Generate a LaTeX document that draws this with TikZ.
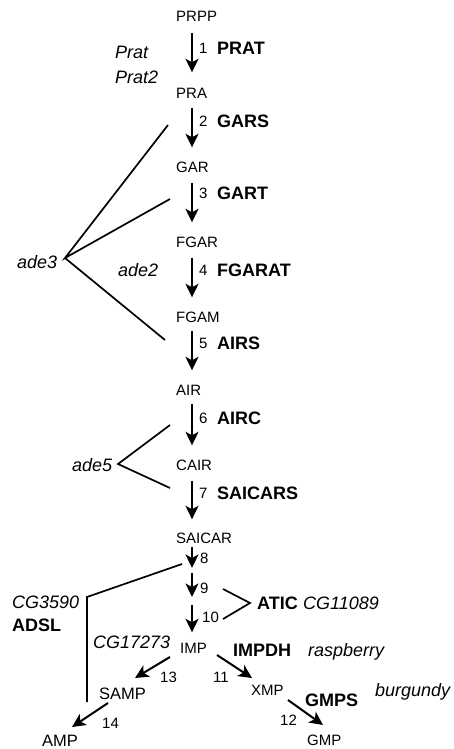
\documentclass[tikz,border=0pt]{standalone}
\usepackage{fontspec}
\setmainfont{Liberation Sans}
\usetikzlibrary{arrows.meta}
\begin{document}
\begin{tikzpicture}[x=1pt,y=-1pt,
  met/.style={anchor=west,inner sep=0pt,text height=11pt,text depth=0pt,font=\fontsize{15}{18}\selectfont},
  metl/.style={anchor=west,inner sep=0pt,text height=12pt,text depth=0pt,font=\fontsize{16.5}{19}\selectfont},
  num/.style={anchor=west,inner sep=0pt,text height=11pt,text depth=0pt,font=\fontsize{15}{18}\selectfont},
  enz/.style={anchor=west,inner sep=0pt,text height=13pt,text depth=0pt,font=\fontsize{18}{21}\selectfont\bfseries},
  gene/.style={anchor=west,inner sep=0pt,text height=13pt,text depth=0pt,font=\fontsize{18}{21}\selectfont\itshape},
  arr/.style={line width=2pt,-{Stealth[length=13.5pt,width=13pt,inset=3.5pt]}},
  sline/.style={line width=1.7pt}]
\useasboundingbox (0,0) rectangle (453,749);
% metabolites
\node[met] (prpp) at (176,16) {PRPP};
\node[met] (pra) at (176,93) {PRA};
\node[met] (gar) at (176,167) {GAR};
\node[met] (fgar) at (176,242) {FGAR};
\node[met] (fgam) at (176,317) {FGAM};
\node[met] (air) at (176,390) {AIR};
\node[met] (cair) at (176,465) {CAIR};
\node[met] (saicar) at (176,538) {SAICAR};
\node[met] (imp) at (180,648) {IMP};
\node[metl] (samp) at (99,693) {SAMP};
\node[met] (xmp) at (251,690) {XMP};
\node[metl] (amp) at (42,740) {AMP};
\node[met] (gmp) at (307,740) {GMP};
% step numbers
\node[num] (n1) at (199,48) {1};
\node[num] (n2) at (199,121) {2};
\node[num] (n3) at (199,193) {3};
\node[num] (n4) at (199,270) {4};
\node[num] (n5) at (199,343) {5};
\node[num] (n6) at (199,418) {6};
\node[num] (n7) at (199,493) {7};
\node[num] (n8) at (200,558) {8};
\node[num] (n9) at (200,588) {9};
\node[num] (n10) at (202,617) {10};
\node[num] (n13) at (160,677) {13};
\node[num] (n11) at (213,677) {11};
\node[num] (n14) at (102,723) {14};
\node[num] (n12) at (280,720) {12};
% enzymes
\node[enz] (prat) at (217,48) {PRAT};
\node[enz] (gars) at (217,121) {GARS};
\node[enz] (gart) at (217,193) {GART};
\node[enz] (fgarat) at (217,270) {FGARAT};
\node[enz] (airs) at (217,343) {AIRS};
\node[enz] (airc) at (217,418) {AIRC};
\node[enz] (saicars) at (217,493) {SAICARS};
\node[enz] (atic) at (257,603) {ATIC};
\node[enz] (adsl) at (12,625) {ADSL};
\node[enz] (impdh) at (233,650) {IMPDH};
\node[enz] (gmps) at (305,700) {GMPS};
% genes
\node[gene] (gprat) at (115,52) {Prat};
\node[gene] (gprat2) at (115,77) {Prat2};
\node[gene] (ade3) at (17,262) {ade3};
\node[gene] (ade2) at (118,270) {ade2};
\node[gene] (ade5) at (72,465) {ade5};
\node[gene] (cg3590) at (12,602) {CG3590};
\node[gene] (cg11089) at (303,603) {CG11089};
\node[gene] (cg17273) at (93,642) {CG17273};
\node[gene] (rasp) at (308,650) {raspberry};
\node[gene] (burg) at (375,690) {burgundy};
% main chain arrows
\draw[arr,shorten <=11pt,shorten >=15pt] ([xshift=16pt]prpp.south west) -- ([xshift=16pt]pra.north west);
\draw[arr,shorten <=9pt,shorten >=14pt] ([xshift=16pt]pra.south west) -- ([xshift=16pt]gar.north west);
\draw[arr,shorten <=10pt,shorten >=14pt] ([xshift=16pt]gar.south west) -- ([xshift=16pt]fgar.north west);
\draw[arr,shorten <=10pt,shorten >=14pt] ([xshift=16pt]fgar.south west) -- ([xshift=16pt]fgam.north west);
\draw[arr,shorten <=8pt,shorten >=14pt] ([xshift=16pt]fgam.south west) -- ([xshift=16pt]air.north west);
\draw[arr,shorten <=8pt,shorten >=14pt] ([xshift=16pt]air.south west) -- ([xshift=16pt]cair.north west);
\draw[arr,shorten <=10pt,shorten >=13pt] ([xshift=16pt]cair.south west) -- ([xshift=16pt]saicar.north west);
\coordinate (c8) at (192,568);
\coordinate (c9a) at (192,573);
\coordinate (c9b) at (192,597);
\coordinate (c10a) at (192,605);
\draw[arr] ([xshift=16pt,yshift=-3pt]saicar.south west) -- (c8);
\draw[arr] (c9a) -- (c9b);
\draw[arr,shorten >=10pt] (c10a) -- ([xshift=12pt]imp.north west);
% branch arrows
\coordinate (a13s) at (170,657); \coordinate (a13e) at (135,678);
\coordinate (a11s) at (217,655); \coordinate (a11e) at (252,678);
\coordinate (a14s) at (108,703); \coordinate (a14e) at (72,727);
\coordinate (a12s) at (288,700); \coordinate (a12e) at (323,725);
\draw[arr] (a13s) -- (a13e);
\draw[arr] (a11s) -- (a11e);
\draw[arr] (a14s) -- (a14e);
\draw[arr] (a12s) -- (a12e);
% gene brackets
\coordinate (v3) at (65,258);
\coordinate (v3a) at (168,125);
\coordinate (v3b) at (170,199);
\coordinate (v3c) at (165,340);
\draw[sline] (v3a) -- (v3) -- (v3b);
\draw[sline] (v3) -- (v3c);
\coordinate (v5) at (118,464);
\coordinate (v5a) at (170,425);
\coordinate (v5b) at (170,488);
\draw[sline] (v5a) -- (v5) -- (v5b);
\coordinate (vat) at (250,603);
\coordinate (vata) at (223,589);
\coordinate (vatb) at (223,619);
\draw[sline] (vata) -- (vat) -- (vatb);
\coordinate (ad1) at (182,564);
\coordinate (ad2) at (87,597);
\coordinate (ad3) at (87,702);
\draw[sline] (ad1) -- (ad2) -- (ad3);
\end{tikzpicture}
\end{document}
